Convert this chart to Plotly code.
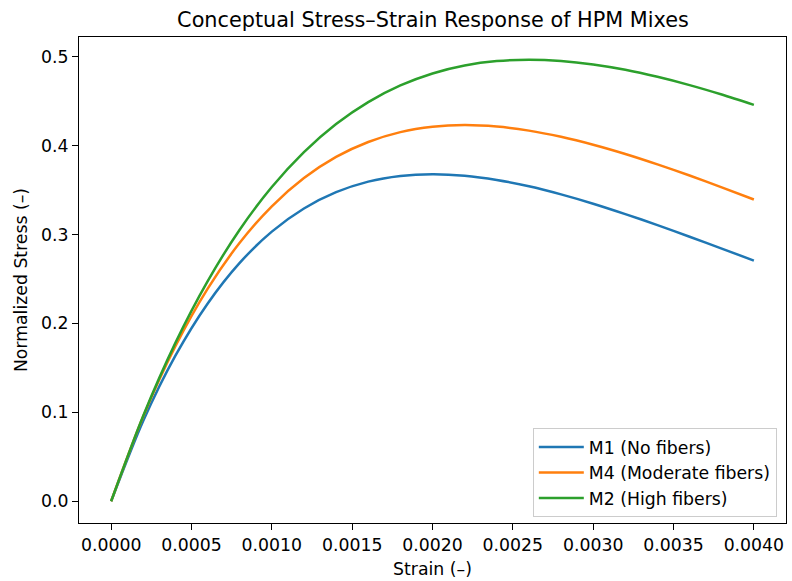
import plotly.graph_objects as go

strain = [0.0000, 0.0002, 0.0004, 0.0006, 0.0008, 0.0010, 0.0012, 0.0014, 0.0016, 0.0018,
          0.0020, 0.0022, 0.0024, 0.0026, 0.0028, 0.0030, 0.0032, 0.0034, 0.0036, 0.0038, 0.0040]

m1 = [0.0, 0.0905, 0.1637, 0.2222, 0.2681, 0.3033, 0.3293, 0.3476, 0.3595, 0.3659,
      0.3679, 0.3662, 0.3614, 0.3543, 0.3452, 0.3347, 0.3230, 0.3106, 0.2975, 0.2842, 0.2707]
m4 = [0.0, 0.0955, 0.1743, 0.2388, 0.2907, 0.3318, 0.3635, 0.3873, 0.4041, 0.4152,
      0.4212, 0.4231, 0.4214, 0.4169, 0.4099, 0.4010, 0.3906, 0.3789, 0.3664, 0.3531, 0.3394]
m2 = [0.0, 0.0962, 0.1781, 0.2473, 0.3054, 0.3534, 0.3927, 0.4243, 0.4490, 0.4677,
      0.4812, 0.4901, 0.4951, 0.4966, 0.4952, 0.4913, 0.4853, 0.4774, 0.4681, 0.4575, 0.4459]

series_names = ["M1 (No fibers)", "M4 (Moderate fibers)", "M2 (High fibers)"]
series_vals = [m1, m4, m2]
colors = ["#1f77b4", "#ff7f0e", "#2ca02c"]

x_ticks = [0.0000, 0.0005, 0.0010, 0.0015, 0.0020, 0.0025, 0.0030, 0.0035, 0.0040]
y_ticks = [0.0, 0.1, 0.2, 0.3, 0.4, 0.5]

FONT = "DejaVu Sans"
FS = 17.3

fig = go.Figure()
for i, (name, vals, c) in enumerate(zip(series_names, series_vals, colors)):
    fig.add_trace(go.Scatter(x=strain, y=vals, mode="lines", name=name, legendgroup=f"g{i}",
                             line=dict(color=c, width=2.5, shape="spline", smoothing=0.8)))

axis_common = dict(showline=True, linecolor="black", linewidth=1.2, mirror=True,
                   ticks="outside", ticklen=6, tickwidth=1.2, tickcolor="black",
                   showgrid=False, zeroline=False,
                   tickfont=dict(family=FONT, size=FS, color="black"))

fig.update_xaxes(range=[-0.0002, 0.0042], tickvals=x_ticks, tickformat=".4f",
                 title=dict(text="Strain (–)", font=dict(family=FONT, size=FS, color="black"), standoff=9),
                 **axis_common)
fig.update_yaxes(range=[-0.0245, 0.5222], tickvals=y_ticks, tickformat=".1f",
                 title=dict(text="Normalized Stress (–)", font=dict(family=FONT, size=FS, color="black"), standoff=8),
                 **axis_common)

fig.update_layout(
    width=792, height=581,
    margin=dict(l=79, r=5, t=37, b=56),
    paper_bgcolor="white", plot_bgcolor="white",
    font=dict(family=FONT, size=FS, color="black"),
    title=dict(text="Conceptual Stress–Strain Response of HPM Mixes",
               font=dict(family=FONT, size=20.8, color="black"),
               x=(79 + 787) / 2 / 792, xanchor="center", y=1 - 20 / 581, yanchor="middle"),
    legend=dict(x=0.987, y=0.012, xanchor="right", yanchor="bottom",
                bgcolor="rgba(255,255,255,0.8)", bordercolor="#cccccc", borderwidth=1,
                itemwidth=45,
                font=dict(family=FONT, size=FS, color="black"), tracegroupgap=0),
    showlegend=True,
)

fig.write_html("out.html")
